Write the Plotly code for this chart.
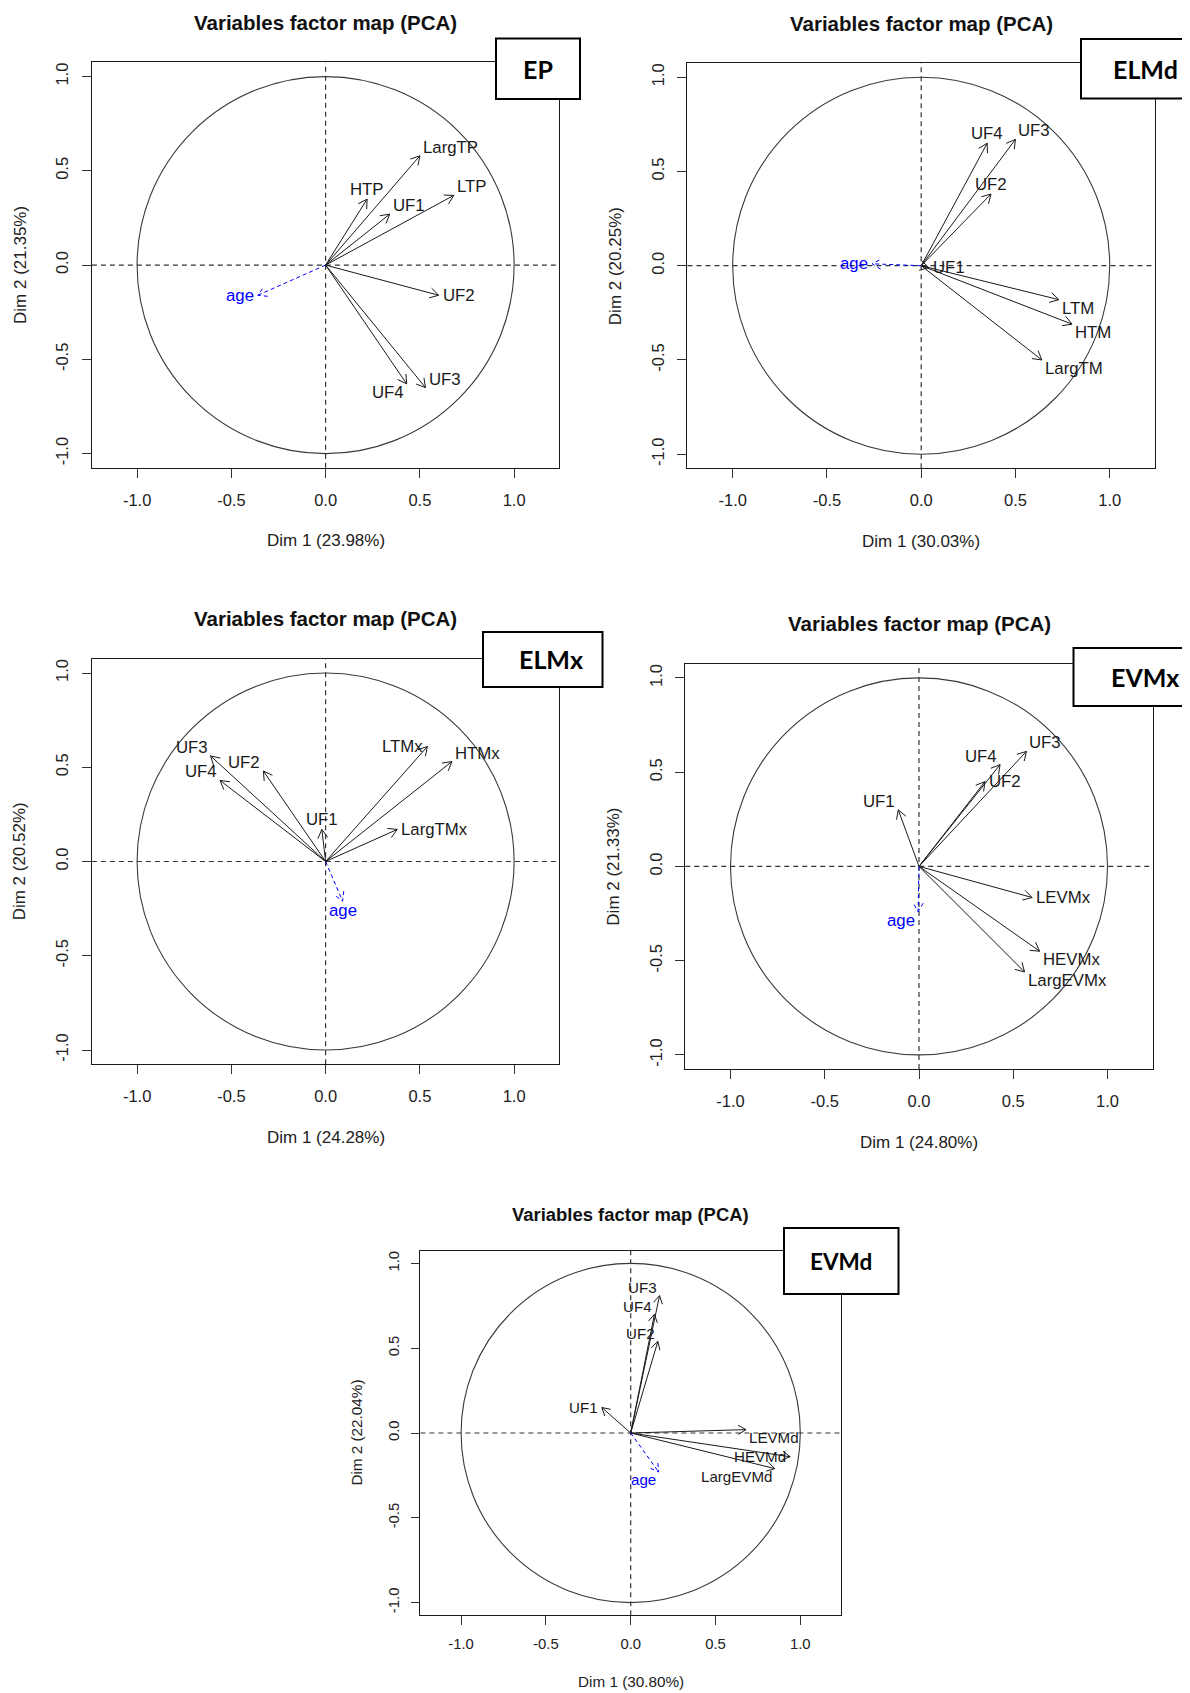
import numpy as np
import plotly.graph_objects as go

W, H = 1190, 1693
OFF = 8  # page body margin in the browser

# ---------------- data ----------------
panel_names = ["EP", "ELMd", "ELMx", "EVMx", "EVMd"]
dim1_pct = ["23.98", "30.03", "24.28", "24.80", "30.80"]
dim2_pct = ["21.35", "20.25", "20.52", "21.33", "22.04"]

tick_vals = [-1.0, -0.5, 0.0, 0.5, 1.0]
tick_text = ["-1.0", "-0.5", "0.0", "0.5", "1.0"]

ep_vars = ["LargTP", "HTP", "UF1", "LTP", "UF2", "UF3", "UF4"]
ep_dim1 = [0.50, 0.22, 0.34, 0.68, 0.60, 0.53, 0.43]
ep_dim2 = [0.58, 0.35, 0.27, 0.37, -0.16, -0.65, -0.63]
ep_pos = ["ra", "a", "ra", "ra", "r", "ra", "lb"]
ep_age = [-0.36, -0.16]

elmd_vars = ["UF4", "UF3", "UF2", "UF1", "LTM", "HTM", "LargTM"]
elmd_dim1 = [0.35, 0.50, 0.37, 0.04, 0.73, 0.80, 0.64]
elmd_dim2 = [0.65, 0.67, 0.38, -0.01, -0.18, -0.31, -0.50]
elmd_pos = ["a", "ra", "a", "r", "rb", "rb", "rb"]
elmd_age = [-0.26, 0.01]

elmx_vars = ["UF3", "UF4", "UF2", "UF1", "LTMx", "HTMx", "LargTMx"]
elmx_dim1 = [-0.61, -0.56, -0.33, -0.02, 0.54, 0.67, 0.38]
elmx_dim2 = [0.56, 0.43, 0.48, 0.17, 0.61, 0.53, 0.17]
elmx_pos = ["la", "la", "la", "a", "l", "ra", "r"]
elmx_age = [0.09, -0.21]

evmx_vars = ["UF4", "UF3", "UF2", "UF1", "LEVMx", "HEVMx", "LargEVMx"]
evmx_dim1 = [0.43, 0.57, 0.35, -0.11, 0.60, 0.64, 0.56]
evmx_dim2 = [0.54, 0.61, 0.45, 0.30, -0.165, -0.45, -0.56]
evmx_pos = ["la", "ra", "r", "la", "r", "rb", "rb"]
evmx_age = [-0.005, -0.24]

evmd_vars = ["UF3", "UF4", "UF2", "UF1", "LEVMd", "HEVMd", "LargEVMd"]
evmd_dim1 = [0.17, 0.14, 0.16, -0.17, 0.68, 0.94, 0.85]
evmd_dim2 = [0.81, 0.70, 0.54, 0.15, 0.02, -0.14, -0.21]
evmd_pos = ["la", "la", "la", "l", "rb", "l", "lb"]
evmd_age = [0.165, -0.23]

age_pos = ["l", "l", "b", "lb", "lb"]

# ---------------- layout geometry (pixels in the final page) ----------------
XR, YR = 1.24, 1.075
geo = [
    dict(cx=325.6, cy=265.1, unit=188.5, box=(496, 580, 38.5, 99), tx=538),
    dict(cx=921.2, cy=265.7, unit=188.5, box=(1081, 1215, 39, 98.5), tx=1145),
    dict(cx=325.6, cy=861.5, unit=188.5, box=(483, 602.5, 632, 687), tx=551),
    dict(cx=919.0, cy=866.4, unit=188.5, box=(1073.5, 1215, 648, 706), tx=1145),
    dict(cx=630.7, cy=1433.0, unit=169.6, box=(784, 898.5, 1228, 1294), tx=841),
]

data = [
    (ep_vars, ep_dim1, ep_dim2, ep_pos, ep_age),
    (elmd_vars, elmd_dim1, elmd_dim2, elmd_pos, elmd_age),
    (elmx_vars, elmx_dim1, elmx_dim2, elmx_pos, elmx_age),
    (evmx_vars, evmx_dim1, evmx_dim2, evmx_pos, evmx_age),
    (evmd_vars, evmd_dim1, evmd_dim2, evmd_pos, evmd_age),
]

FONT = "Liberation Sans, Arial, sans-serif"
anch = {
    "r": ("left", "middle", 2, 0),
    "ra": ("left", "bottom", 1, -3),
    "rb": ("left", "top", 1, 3),
    "a": ("center", "bottom", 0, -2),
    "b": ("center", "top", 0, 2),
    "l": ("right", "middle", -2, 0),
    "la": ("right", "bottom", -1, -3),
    "lb": ("right", "top", -1, 3),
}


def arrows(xs, ys, L):
    X, Y = [], []
    for x, y in zip(xs, ys):
        th = np.arctan2(y, x)
        X += [0, x, None]
        Y += [0, y, None]
        X += [x - L * np.cos(th - np.pi / 6), x, x - L * np.cos(th + np.pi / 6), None]
        Y += [y - L * np.sin(th - np.pi / 6), y, y - L * np.sin(th + np.pi / 6), None]
    return X, Y


def px(x):
    return (x - OFF) / W


def py(y):
    return 1 - (y - OFF) / H


fig = go.Figure()
annotations, shapes, axes = [], [], {}

for i, (g, (vars_, d1, d2, pos, age)) in enumerate(zip(geo, data)):
    n = "" if i == 0 else str(i + 1)
    xa, ya = "x" + n, "y" + n
    u = g["unit"]
    s = u / 188.5
    cx, cy = g["cx"], g["cy"]
    xdom = [px(cx - XR * u), px(cx + XR * u)]
    ydom = [py(cy + YR * u), py(cy - YR * u)]
    common = dict(
        tickvals=tick_vals, ticktext=tick_text, ticks="outside", ticklen=9 * s,
        tickcolor="#333", tickwidth=1.1, showline=True, mirror=True, linecolor="#1a1a1a",
        linewidth=1.3, showgrid=False, zeroline=False, fixedrange=True,
        tickfont=dict(family=FONT, size=16.5 * s, color="#222"),
    )
    axes["xaxis" + n] = dict(domain=xdom, range=[-XR, XR], anchor=ya,
                             ticklabelstandoff=int(8 * s), **common)
    axes["yaxis" + n] = dict(domain=ydom, range=[-YR, YR], anchor=xa, tickangle=-90,
                             ticklabelstandoff=int(7 * s), **common)

    # dashed zero lines and unit circle
    dash = dict(color="#333333", width=1.2, dash="5px,4px")
    shapes.append(dict(type="line", xref=xa + " domain", yref=ya, x0=0, x1=1, y0=0, y1=0, line=dash, layer="below"))
    shapes.append(dict(type="line", xref=xa, yref=ya + " domain", x0=0, x1=0, y0=0, y1=1, line=dash, layer="below"))
    shapes.append(dict(type="circle", xref=xa, yref=ya, x0=-1, y0=-1, x1=1, y1=1,
                       line=dict(color="#3a3a3a", width=1.1), layer="below"))

    L = 10 * s / u
    X, Y = arrows(d1, d2, L)
    fig.add_trace(go.Scatter(x=X, y=Y, mode="lines", xaxis=xa, yaxis=ya, hoverinfo="skip",
                             line=dict(color="#1a1a1a", width=1)))
    X, Y = arrows([age[0]], [age[1]], L)
    fig.add_trace(go.Scatter(x=X, y=Y, mode="lines", xaxis=xa, yaxis=ya, hoverinfo="skip",
                             line=dict(color="#0000ff", width=1, dash="4px,3px")))

    for name, x, y, p in list(zip(vars_, d1, d2, pos)) + [("age", age[0], age[1], age_pos[i])]:
        xan, yan, xs, ys = anch[p]
        annotations.append(dict(
            x=x, y=y, xref=xa, yref=ya, text=name, showarrow=False, xanchor=xan, yanchor=yan,
            xshift=xs * s, yshift=ys * s,
            font=dict(family=FONT, size=16.8 * s, color="#0000ff" if name == "age" else "#1a1a1a")))

    # titles
    annotations.append(dict(x=0.5, y=1, xref=xa + " domain", yref=ya + " domain", yshift=40 * s,
                            text="<b>Variables factor map (PCA)</b>", showarrow=False,
                            xanchor="center", yanchor="middle",
                            font=dict(family=FONT, size=20.5 * s, color="#111")))
    annotations.append(dict(x=0.5, y=0, xref=xa + " domain", yref=ya + " domain", yshift=-73 * s,
                            text=f"Dim 1 ({dim1_pct[i]}%)", showarrow=False,
                            xanchor="center", yanchor="middle",
                            font=dict(family=FONT, size=17 * s, color="#222")))
    annotations.append(dict(x=0, y=0.5, xref=xa + " domain", yref=ya + " domain", xshift=-72 * s,
                            text=f"Dim 2 ({dim2_pct[i]}%)", showarrow=False, textangle=-90,
                            xanchor="center", yanchor="middle",
                            font=dict(family=FONT, size=17 * s, color="#222")))

    # label box
    bx0, bx1, by0, by1 = g["box"]
    shapes.append(dict(type="rect", xref="paper", yref="paper", x0=px(bx0), x1=px(bx1),
                       y0=py(by1), y1=py(by0), fillcolor="white",
                       line=dict(color="black", width=2), layer="above"))
    annotations.append(dict(x=px(g["tx"]), y=py((by0 + by1) / 2), xref="paper", yref="paper",
                            text=f"<b>{panel_names[i]}</b>", showarrow=False,
                            xanchor="center", yanchor="middle",
                            font=dict(family="Lato, Open Sans, sans-serif", size=25 * s, color="black")))

fig.update_layout(
    width=W, height=H, margin=dict(l=0, r=0, t=0, b=0),
    paper_bgcolor="white", plot_bgcolor="white", showlegend=False, hovermode=False,
    annotations=annotations, shapes=shapes, **axes,
)

fig.write_html("out.html")
